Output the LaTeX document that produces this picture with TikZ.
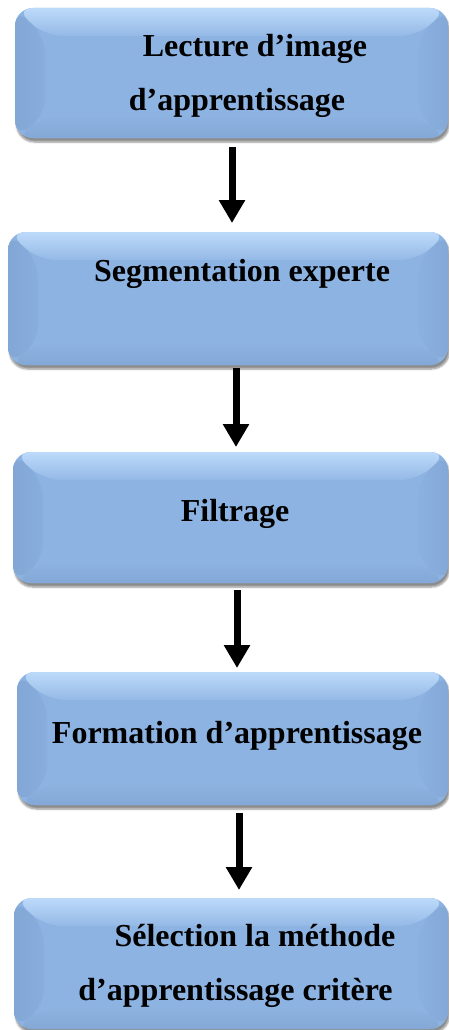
\documentclass[tikz,border=0pt]{standalone}
\usepackage{fontspec}
\setmainfont{Liberation Serif}
\usetikzlibrary{arrows.meta,calc,shadows.blur}

\definecolor{face}{HTML}{8DB3E2}
\definecolor{faceTop}{HTML}{BDDAFA}
\definecolor{faceSide}{HTML}{88AEDE}
\definecolor{faceBot}{HTML}{84A8D6}

\tikzset{
  stepbox/.style={
    rounded corners=18pt, inner sep=0pt, outer sep=0pt,
    fill=face,
    blur shadow={shadow xshift=1.5pt, shadow yshift=-4pt, shadow blur steps=6, shadow opacity=45},
    path picture={
      \coordinate (nw) at (path picture bounding box.north west);
      \coordinate (ne) at (path picture bounding box.north east);
      \coordinate (sw) at (path picture bounding box.south west);
      \coordinate (se) at (path picture bounding box.south east);
      % left bevel
      \shade[left color=faceSide!96!black, right color=faceSide]
        (nw) -- ($(nw)+(30,28)$) -- ($(sw)+(30,-22)$) -- (sw) -- cycle;
      % right bevel
      \shade[right color=faceSide!97!black, left color=face!60!faceSide]
        (ne) -- ($(ne)+(-30,28)$) -- ($(se)+(-30,-22)$) -- (se) -- cycle;
      % bottom bevel
      \shade[bottom color=faceBot, top color=face]
        (sw) -- ($(sw)+(30,-22)$) -- ($(se)+(-30,-22)$) -- (se) -- cycle;
      % top bevel
      \shade[top color=faceTop, bottom color=face!85!faceTop]
        (nw) -- ($(nw)+(30,28)$) -- ($(ne)+(-30,28)$) -- (ne) -- cycle;
    }
  },
  lbl/.style={font=\bfseries\fontsize{32}{38}\selectfont, anchor=base, inner sep=0pt},
  flow/.style={line width=7pt, -{Triangle[width=25pt,length=23pt]}, black}
}

\begin{document}
\begin{tikzpicture}[x=1pt, y=-1pt]
  \useasboundingbox (0,0) rectangle (449,1030);

  % boxes (the labels are set separately so each line sits at its own place)
  \node[stepbox, minimum width=433pt, minimum height=130pt] (b1) at (231.5,73) {};
  \node[stepbox, minimum width=440pt, minimum height=133pt] (b2) at (228,298.5) {};
  \node[stepbox, minimum width=435pt, minimum height=131pt] (b3) at (230.5,517.5) {};
  \node[stepbox, minimum width=431pt, minimum height=133pt] (b4) at (232.5,738.5) {};
  \node[stepbox, minimum width=434pt, minimum height=131pt] (b5) at (231,963.5) {};

  \node[lbl] (t1a) at (255,57) {Lecture d’image};
  \node[lbl] (t1b) at (237,111) {d’apprentissage};
  \node[lbl] (t2) at (242,281) {Segmentation experte};
  \node[lbl] (t3) at (235,521) {Filtrage};
  \node[lbl] (t4) at (237,743) {Formation d’apprentissage};
  \node[lbl] (t5a) at (255,946) {Sélection la méthode};
  \node[lbl] (t5b) at (235.5,1000) {d’apprentissage critère};

  % connectors: vertical, starting just under each box
  \coordinate (a1) at ($(b1.south)+(0.5,9)$);
  \coordinate (a2) at ($(b2.south)+(8,3)$);
  \coordinate (a3) at ($(b3.south)+(6.5,7)$);
  \coordinate (a4) at ($(b4.south)+(6.5,8)$);
  \draw[flow] (a1) -- ($(a1 |- b2.north)+(0,-9)$);
  \draw[flow] (a2) -- ($(a2 |- b3.north)+(0,-5)$);
  \draw[flow] (a3) -- ($(a3 |- b4.north)+(0,-4)$);
  \draw[flow] (a4) -- ($(a4 |- b5.north)+(0,-8)$);
\end{tikzpicture}
\end{document}
